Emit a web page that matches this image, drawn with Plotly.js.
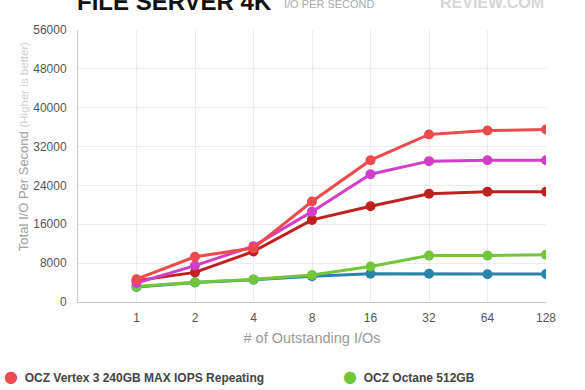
<!DOCTYPE html>
<html>
<head>
<meta charset="utf-8">
<script src="https://cdn.plot.ly/plotly-3.0.1.min.js"></script>
<style>html,body{margin:0;padding:0;background:#fff;}#chart{width:585px;height:390px;}</style>
</head>
<body>
<div id="chart"></div>
<script>
var categories = ["1", "2", "4", "8", "16", "32", "64", "128"];
var vertexMaxIops = [4700, 9300, 11100, 20700, 29200, 34500, 35300, 35500];
var magentaSeries = [3900, 7500, 11500, 18600, 26300, 29000, 29200, 29200];
var darkRedSeries = [4400, 6100, 10400, 16900, 19700, 22300, 22700, 22700];
var octane512 = [3200, 4050, 4650, 5550, 7300, 9550, 9550, 9750];
var blueSeries = [3100, 4000, 4600, 5300, 5800, 5800, 5700, 5750];
var yTicks = [0, 8000, 16000, 24000, 32000, 40000, 48000, 56000];
var legendNames = ["OCZ Vertex 3 240GB MAX IOPS Repeating", "OCZ Octane 512GB"];

var colors = {
  vertex: "#ec4a4d",
  magenta: "#d23ec7",
  darkred: "#c21f1f",
  green: "#73c53b",
  blue: "#2b82ab"
};

function line(name, y, color) {
  return {
    x: categories, y: y, name: name, type: "scatter", mode: "lines+markers",
    line: {color: color, width: 3},
    marker: {color: color, size: 10},
    showlegend: false, hoverinfo: "x+y"
  };
}

var data = [
  line("Blue series", blueSeries, colors.blue),
  line(legendNames[1], octane512, colors.green),
  line("Dark red series", darkRedSeries, colors.darkred),
  line("Magenta series", magentaSeries, colors.magenta),
  line(legendNames[0], vertexMaxIops, colors.vertex)
];

var font = "Liberation Sans, Arial, Helvetica, sans-serif";

function legendItem(name, color, xPaper) {
  return {
    xref: "paper", yref: "paper", x: xPaper, y: 0, yshift: -74, xanchor: "left", yanchor: "middle",
    showarrow: false, align: "left",
    text: "<span style='color:" + color + ";font-size:16px;font-family:DejaVu Sans'>●</span>  <b>" + name + "</b>",
    font: {family: font, size: 12, color: "#444"}
  };
}

var layout = {
  width: 585, height: 390,
  margin: {l: 78, r: 39, t: 30, b: 88},
  paper_bgcolor: "#fff", plot_bgcolor: "#fff",
  font: {family: font, color: "#666", size: 12},
  showlegend: false,
  xaxis: {
    type: "category", range: [-1, 7],
    showgrid: true, gridcolor: "#ececec", gridwidth: 1,
    showline: true, linecolor: "#c8c8c8", linewidth: 1,
    ticks: "", ticklabelstandoff: 5,
    tickfont: {family: font, size: 12, color: "#555"},
    title: {text: "# of Outstanding I/Os", font: {family: font, size: 14.5, color: "#999"}, standoff: 8},
    zeroline: false, fixedrange: true
  },
  yaxis: {
    range: [0, 56000], tickvals: yTicks, ticktext: yTicks.map(String),
    showgrid: true, gridcolor: "#ececec", gridwidth: 1,
    showline: true, linecolor: "#c8c8c8", linewidth: 1,
    ticks: "", ticklabelstandoff: 8,
    tickfont: {family: font, size: 12, color: "#555"},
    zeroline: false, fixedrange: true
  },
  annotations: [
    {xref: "paper", yref: "paper", x: -0.115, y: 0.57, textangle: -90, showarrow: false,
     xanchor: "center", yanchor: "middle",
     text: "Total I/O Per Second <span style='font-size:11.5px;color:#cfcfcf'>(Higher is better)</span>",
     font: {family: font, size: 13, color: "#a0a0a0"}},
    {xref: "paper", yref: "paper", x: 0, y: 1, yshift: 13, xshift: -3, xanchor: "left", yanchor: "bottom", showarrow: false,
     text: "<b>FILE SERVER 4K</b>", font: {family: font, size: 24, color: "#111"}},
    {xref: "paper", yref: "paper", x: 0.435, y: 1, yshift: 18, xanchor: "left", yanchor: "bottom", showarrow: false,
     text: "I/O PER SECOND", font: {family: font, size: 11, color: "#aaa"}},
    {xref: "paper", yref: "paper", x: 1, y: 1, yshift: 17, xanchor: "right", yanchor: "bottom", showarrow: false,
     text: "<b>REVIEW.COM</b>", font: {family: font, size: 16, color: "#d5d5d5"}},
    legendItem(legendNames[0], colors.vertex, -0.162),
    legendItem(legendNames[1], colors.green, 0.563)
  ]
};

Plotly.newPlot("chart", data, layout, {staticPlot: true, displayModeBar: false});
</script>
</body>
</html>
